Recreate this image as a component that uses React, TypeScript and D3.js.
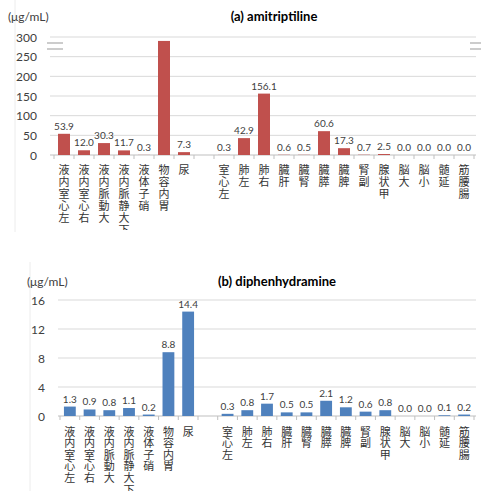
import * as d3 from "d3";

// categories (blank slot separates fluids from tissues)
const organs = [
  "左心室内液", "右心室内液", "大動脈内液", "下大静脈内液", "硝子体液", "胃内容物", "尿", "",
  "左心室", "左肺", "右肺", "肝臓", "腎臓", "膵臓", "脾臓", "副腎", "甲状腺", "大脳", "小脳", "延髄", "腸腰筋",
];

// (a) amitriptiline, μg/mL; gastric contents bar runs past the axis break (label hidden)
const amiValues = [53.9, 12.0, 30.3, 11.7, 0.3, 290, 7.3, null, 0.3, 42.9, 156.1, 0.6, 0.5, 60.6, 17.3, 0.7, 2.5, 0.0, 0.0, 0.0, 0.0];
const amiHidden = [5];
const amiTicks = [0, 50, 100, 150, 200, 250, 300];

// (b) diphenhydramine, μg/mL
const diphValues = [1.3, 0.9, 0.8, 1.1, 0.2, 8.8, 14.4, null, 0.3, 0.8, 1.7, 0.5, 0.5, 2.1, 1.2, 0.6, 0.8, 0.0, 0.0, 0.1, 0.2];
const diphTicks = [0, 4, 8, 12, 16];

const latin = "Lato, 'Open Sans', sans-serif";
const cjk = "'Noto Sans CJK JP', sans-serif";
const txt = "#404040";

function Panel({ title, values, hidden = [], ticks, color, x0, x1, gridX0, yTop, yZero, unitX, tickX, titleY, labelTop, charH, clipY, breakMarks }) {
  const idx = organs.map((_, i) => i);
  const x = d3.scaleBand().domain(idx).range([x0, x1]).paddingInner(0.4).paddingOuter(0.2);
  const y = d3.scaleLinear().domain([0, d3.max(ticks)]).range([yZero, yTop]);
  const step = x.step();
  const clipId = "clip" + titleY;

  return (
    <g>
      <defs>
        <clipPath id={clipId}>
          <rect x={0} y={yZero} width={481} height={clipY - yZero} />
        </clipPath>
      </defs>
      <text x={unitX} y={titleY + 4} fontFamily={latin} fontSize={12} fill={txt}>(μg/mL)</text>
      <text x={(x0 + x1) / 2 + 10} y={titleY + 4} fontFamily={latin} fontSize={13} fontWeight="bold" fill="#000" textAnchor="middle">
        {title}
      </text>
      {ticks.map((t) => (
        <g key={t}>
          {t > 0 && <line x1={gridX0} x2={x1 + 2} y1={y(t)} y2={y(t)} stroke="#d9d9d9" />}
          <text x={tickX} y={y(t) + 4.5} textAnchor="end" fontFamily={latin} fontSize={12} fill={txt}>{t}</text>
        </g>
      ))}
      <line x1={gridX0} x2={x1 + 2} y1={yZero} y2={yZero} stroke="#bfbfbf" />
      {d3.range(organs.length + 1).map((i) => (
        <line key={i} x1={x0 + i * step} x2={x0 + i * step} y1={yZero} y2={yZero + 4} stroke="#bfbfbf" />
      ))}
      {values.map((v, i) =>
        v == null ? null : (
          <g key={i}>
            <rect x={x(i)} y={y(v)} width={x.bandwidth()} height={yZero - y(v)} fill={color} />
            {!hidden.includes(i) && (
              <text x={x(i) + x.bandwidth() / 2} y={y(v) - 4} textAnchor="middle" fontFamily={latin} fontSize={10} fill={txt}>
                {v.toFixed(1)}
              </text>
            )}
          </g>
        )
      )}
      {breakMarks &&
        breakMarks.map((b, k) => (
          <g key={k}>
            <rect x={b.x} y={b.y - 1} width={b.w} height={7} fill="#fff" />
            <line x1={b.x} x2={b.x + b.w} y1={b.y} y2={b.y} stroke="#999" />
            <line x1={b.x} x2={b.x + b.w} y1={b.y + 6} y2={b.y + 6} stroke="#999" />
          </g>
        ))}
      <g clipPath={`url(#${clipId})`}>
        {organs.map((name, i) => {
          const chars = Array.from(name);
          const cx = x(i) + x.bandwidth() / 2;
          return (
            <g key={i}>
              {chars.map((c, j) => (
                <text key={j} x={cx} y={labelTop + (chars.length - j) * charH - 2} textAnchor="middle" fontFamily={cjk} fontSize={11} fill="#333">
                  {c}
                </text>
              ))}
            </g>
          );
        })}
      </g>
    </g>
  );
}

export default function App() {
  return (
    <svg width={481} height={491} style={{ position: "absolute", left: 0, top: 0, background: "#fff" }}>
      <line x1={15} x2={15} y1={0} y2={232} stroke="#ececec" />
      <line x1={30} x2={30} y1={262} y2={491} stroke="#ececec" />
      <Panel
        title="(a) amitriptiline"
        values={amiValues}
        hidden={amiHidden}
        ticks={amiTicks}
        color="#c0504d"
        x0={54}
        x1={474}
        gridX0={50}
        yTop={37}
        yZero={155}
        unitX={8}
        tickX={37}
        titleY={17}
        labelTop={164}
        charH={12}
        clipY={230}
        breakMarks={[{ x: 47, y: 43, w: 16 }, { x: 470, y: 43, w: 11 }]}
      />
      <Panel
        title="(b) diphenhydramine"
        values={diphValues}
        ticks={diphTicks}
        color="#4f81bd"
        x0={60}
        x1={474}
        gridX0={58}
        yTop={300}
        yZero={416}
        unitX={27}
        tickX={45}
        titleY={282}
        labelTop={426}
        charH={11.6}
        clipY={491}
      />
    </svg>
  );
}
